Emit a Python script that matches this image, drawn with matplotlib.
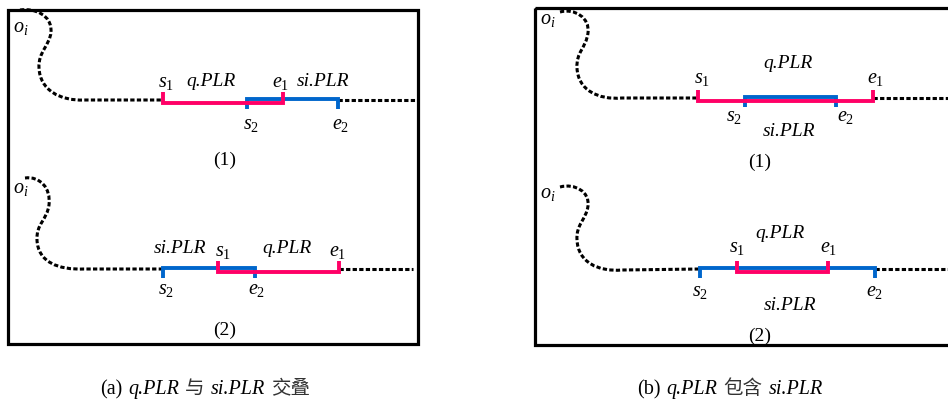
import matplotlib
matplotlib.use("Agg")
import matplotlib.pyplot as plt
from matplotlib.path import Path
from matplotlib.patches import PathPatch, Rectangle

plt.rcParams['mathtext.fontset'] = 'custom'
plt.rcParams['mathtext.rm'] = 'Liberation Serif'
plt.rcParams['mathtext.it'] = 'Liberation Serif:italic'
plt.rcParams['font.family'] = ['Liberation Serif', 'Noto Sans CJK SC']

RED = '#FF0066'
BLUE = '#0066CC'

# ---- diagram values (pixel positions on the 948x400 canvas) ----
panels = ['a1', 'a2', 'b1', 'b2']
baseline_y = [100, 269, 98, 269]
q_start = [163, 218, 698, 737]
q_end = [283, 339, 873, 828]
si_start = [247, 163, 745, 700]
si_end = [338, 255, 836, 875]
line_right = [416, 413, 950, 950]
sub_labels = ['(1)', '(2)', '(1)', '(2)']

# o_i wiggle curves: cubic bezier control points per panel
curves = [
    [(20, 10), (35, 8), (52, 15), (51, 32), (50, 45), (38, 52), (39, 68),
     (40, 90), (60, 101), (84, 100)],
    [(25, 178), (40, 176), (51, 188), (49, 205), (47, 220), (36, 224), (37, 240),
     (38, 262), (58, 270), (84, 269)],
    [(560, 12), (575, 8), (590, 18), (588, 33), (586, 48), (576, 52), (577, 68),
     (578, 90), (598, 100), (622, 98)],
    [(560, 187), (575, 183), (590, 192), (588, 206), (586, 220), (576, 224), (577, 240),
     (578, 262), (598, 272), (622, 270)],
]

# label placements: (text, x_center, baseline_y, kind)
labels = [
    # a1
    (r'$o_i$', 21, 32, 'm'), (r'$s_1$', 166, 87, 'm'), ('q.PLR', 211, 86, 'i'),
    (r'$e_1$', 281, 87, 'm'), ('si.PLR', 323, 86, 'i'),
    (r'$s_2$', 251, 129, 'm'), (r'$e_2$', 341, 129, 'm'),
    # a2
    (r'$o_i$', 21, 193, 'm'), ('si.PLR', 180, 253, 'i'), (r'$s_1$', 223, 256, 'm'),
    ('q.PLR', 287, 253, 'i'), (r'$e_1$', 338, 256, 'm'),
    (r'$s_2$', 166, 294, 'm'), (r'$e_2$', 257, 294, 'm'),
    # b1
    (r'$o_i$', 548, 24, 'm'), ('q.PLR', 788, 68, 'i'), (r'$s_1$', 702, 83, 'm'),
    (r'$e_1$', 876, 83, 'm'), (r'$s_2$', 734, 121, 'm'), (r'$e_2$', 846, 121, 'm'),
    ('si.PLR', 789, 136, 'i'),
    # b2
    (r'$o_i$', 548, 198, 'm'), ('q.PLR', 780, 238, 'i'), (r'$s_1$', 737, 252, 'm'),
    (r'$e_1$', 829, 252, 'm'), (r'$s_2$', 700, 296, 'm'), (r'$e_2$', 875, 296, 'm'),
    ('si.PLR', 790, 310, 'i'),
]
sub_label_pos = [(225, 165), (225, 335), (760, 167), (760, 341)]

captions = [
    (205, 394, [('(a)', 'n'), ('q.PLR', 'i'), ('与', 'c'), ('si.PLR', 'i'), ('交叠', 'c')]),
    (730, 394, [('(b)', 'n'), ('q.PLR', 'i'), ('包含', 'c'), ('si.PLR', 'i')]),
]

# ---- drawing ----
fig = plt.figure(figsize=(9.48, 4.0), dpi=100)
ax = fig.add_axes([0, 0, 1, 1])
ax.set_xlim(0, 948)
ax.set_ylim(400, 0)
ax.axis('off')

BOX_LW = 2.3
ax.add_patch(Rectangle((8.5, 9.5), 418 - 8.5, 343.5 - 9.5, fill=False,
                       lw=BOX_LW, ec='black', zorder=5))
ax.add_patch(Rectangle((535, 7.5), 980 - 535, 345 - 7.5, fill=False,
                       lw=BOX_LW, ec='black', zorder=5, clip_on=False))

DASH_LW = 2.2
DASHES = (1.4, 0.75)
LW_SEG = 2.8
RED_OFF, BLUE_OFF = 3, -1.5
TICK = 9

for i in range(len(panels)):
    y = baseline_y[i]
    left = min(q_start[i], si_start[i])
    right = max(q_end[i], si_end[i])
    pts = curves[i]
    verts = [pts[0]] + pts[1:] + [(left, y)]
    codes = [Path.MOVETO] + [Path.CURVE4] * 9 + [Path.LINETO]
    patch = PathPatch(Path(verts, codes), fill=False, ec='black', lw=DASH_LW,
                      capstyle='butt', zorder=2)
    patch.set_linestyle((0, DASHES))
    ax.add_patch(patch)
    ax.plot([right, line_right[i]], [y, y], color='black', lw=DASH_LW,
            dashes=DASHES, dash_capstyle='butt', zorder=2, clip_on=False)

    yb = y + BLUE_OFF
    ax.plot([si_start[i], si_start[i], si_end[i], si_end[i]],
            [yb + TICK + 1.5, yb, yb, yb + TICK + 1.5], color=BLUE, lw=LW_SEG,
            solid_joinstyle='miter', solid_capstyle='butt', zorder=3)
    yr = y + RED_OFF
    ax.plot([q_start[i], q_start[i], q_end[i], q_end[i]],
            [yr - TICK - 2, yr, yr, yr - TICK - 2], color=RED, lw=LW_SEG,
            solid_joinstyle='miter', solid_capstyle='butt', zorder=4)

FS = 14
FS_M = 14.5
for txt, x, yb, kind in labels:
    if kind == 'i':
        ax.text(x, yb, txt, ha='center', va='baseline', fontsize=FS,
                family='Liberation Serif', style='italic', zorder=6)
    else:
        ax.text(x, yb, txt, ha='center', va='baseline', fontsize=FS_M, zorder=6)

for lab, (x, yb) in zip(sub_labels, sub_label_pos):
    ax.text(x, yb, lab, ha='center', va='baseline', fontsize=FS,
            family='Liberation Serif', zorder=6)

renderer = fig.canvas.get_renderer()
CAP_FS = 14.5
GAP = 6
for xc, yb, pieces in captions:
    objs = []
    for s, kind in pieces:
        if kind == 'i':
            t = ax.text(0, yb, s, ha='left', va='baseline', fontsize=CAP_FS,
                        family='Liberation Serif', style='italic')
        elif kind == 'c':
            t = ax.text(0, yb, s, ha='left', va='baseline', fontsize=CAP_FS - 0.5,
                        family=['Noto Sans CJK SC'], fontweight='light',
                        color='#333333')
        else:
            t = ax.text(0, yb, s, ha='left', va='baseline', fontsize=CAP_FS,
                        family='Liberation Serif')
        objs.append(t)
    widths = [t.get_window_extent(renderer).width for t in objs]
    total = sum(widths) + GAP * (len(objs) - 1)
    x = xc - total / 2
    for t, w in zip(objs, widths):
        t.set_x(x)
        x += w + GAP

fig.savefig('out.png', dpi=100)
